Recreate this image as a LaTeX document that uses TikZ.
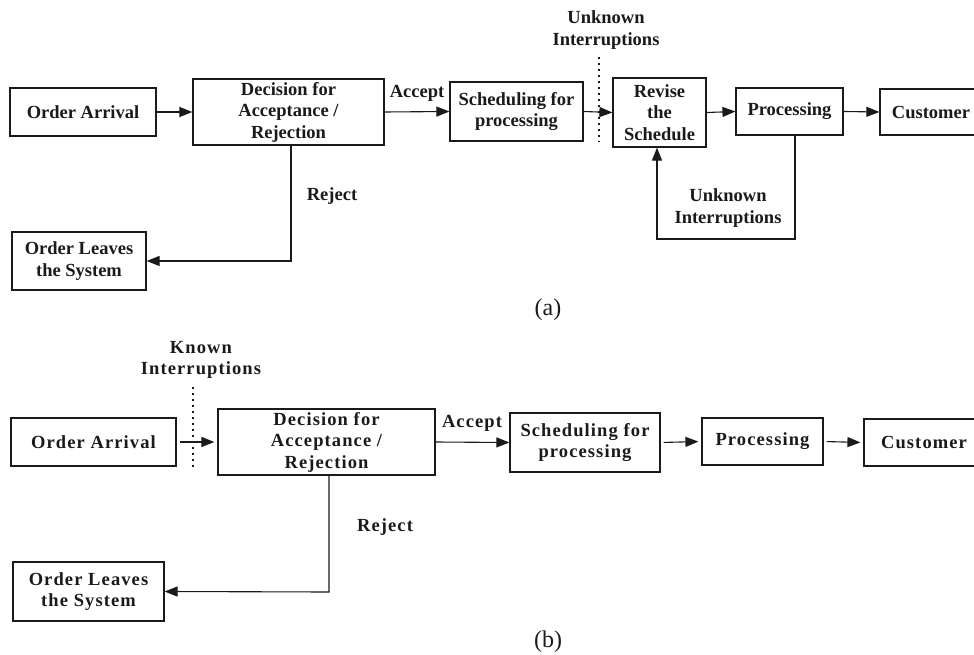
\documentclass[tikz,border=0pt]{standalone}
\usepackage{fontspec}
\setmainfont{Liberation Serif}
\newfontfamily\spaced[LetterSpace=6]{Liberation Serif}
\usetikzlibrary{arrows.meta}
\definecolor{ink}{HTML}{1A1A1A}
\tikzset{
  box/.style={draw=ink, line width=1.2pt, rectangle, inner sep=0pt, align=center,
    text=ink, font=\fontsize{18.5}{21.5}\selectfont\bfseries},
  sbox/.style={box, font=\fontsize{18.5}{21.5}\selectfont\spaced\bfseries},
  lbl/.style={text=ink, align=center, inner sep=0pt, font=\fontsize{18.5}{21.5}\selectfont\bfseries},
  slbl/.style={lbl, font=\fontsize{18.5}{21.5}\selectfont\spaced\bfseries},
  captxt/.style={text=ink, inner sep=0pt, font=\fontsize{24}{27}\selectfont},
  flow/.style={draw=ink, line width=1.1pt, -{Triangle[length=13pt,width=10pt]}},
  dots/.style={draw=ink, line width=1.6pt, dash pattern=on 1.6pt off 4.4pt}
}
\begin{document}
\begin{tikzpicture}[x=1pt,y=-1pt]
\useasboundingbox (0,0) rectangle (974,655);
% ---------- (a) ----------
\node[box, minimum width=146, minimum height=48] (oaA) at (83,112) {Order Arrival};
\node[box, minimum width=191, minimum height=66] (decA) at (288.5,112) {Decision for\\Acceptance /\\Rejection};
\node[box, minimum width=133, minimum height=59] (schA) at (516.5,111.5) {Scheduling for\\processing};
\node[box, minimum width=93, minimum height=69] (revA) at (659.5,112.5) {Revise\\the\\Schedule};
\node[box, minimum width=107, minimum height=47] (procA) at (789.5,111.5) {Processing};
\node[box, minimum width=102, minimum height=46] (custA) at (931,112) {Customer};
\node[box, minimum width=134, minimum height=58] (leaveA) at (79,261) {Order Leaves\\the System};

\node[lbl] (accA) at (417,93) {Accept};
\node[lbl] (rejA) at (332,196) {Reject};
\node[lbl] (uiTop) at (606,30) {Unknown\\Interruptions};
\node[lbl] (uiBot) at (728,208) {Unknown\\Interruptions};
\node[captxt] (capA) at (548,310) {(a)};

\coordinate (dA1) at (599,57);
\coordinate (dA2) at (599,142);
\draw[dots] (dA1) -- (dA2);

\draw[flow] (oaA.east) -- (decA.west);
\draw[flow] (decA.east) -- (schA.west);
\draw[flow] (schA.east) -- (revA.west);
\draw[flow] (revA.east) -- (procA.west);
\draw[flow] (procA.east) -- (custA.west);
\coordinate (fbA1) at (795,239);
\coordinate (fbA2) at (657,239);
\draw[flow] (procA.south -| fbA1) -- (fbA1) -- (fbA2) -- (revA.south -| fbA2);
\coordinate (rjA) at (291,261);
\draw[flow] (decA.south -| rjA) -- (rjA) -- (leaveA.east);

% ---------- (b) ----------
\node[sbox, minimum width=165, minimum height=48] (oaB) at (93.5,442) {Order Arrival};
\node[sbox, minimum width=217, minimum height=66] (decB) at (326.5,442) {Decision for\\Acceptance /\\Rejection};
\node[sbox, minimum width=150, minimum height=59] (schB) at (585,442.5) {Scheduling for\\processing};
\node[sbox, minimum width=121, minimum height=47] (procB) at (762.5,441.5) {Processing};
\node[sbox, minimum width=120, minimum height=47] (custB) at (924,442.5) {Customer};
\node[sbox, minimum width=151, minimum height=59] (leaveB) at (88.5,591.5) {Order Leaves\\the System};

\node[slbl] (accB) at (472,423) {Accept};
\node[slbl] (rejB) at (385,527) {Reject};
\node[slbl] (kiB) at (201,360) {Known\\Interruptions};
\node[captxt] (capB) at (548,642) {(b)};

\coordinate (dB1) at (193,387);
\coordinate (dB2) at (193,470);
\draw[dots] (dB1) -- (dB2);

\draw[flow, shorten <=3pt, shorten >=3pt] (oaB.east) -- (decB.west);
\draw[flow] (decB.east) -- (schB.west);
\draw[flow, shorten <=3pt, shorten >=3pt] (schB.east) -- (procB.west);
\draw[flow, shorten <=3pt, shorten >=3pt] (procB.east) -- (custB.west);
\coordinate (rjB) at (329,592);
\draw[flow] (decB.south -| rjB) -- (rjB) -- (leaveB.east);
\end{tikzpicture}
\end{document}
